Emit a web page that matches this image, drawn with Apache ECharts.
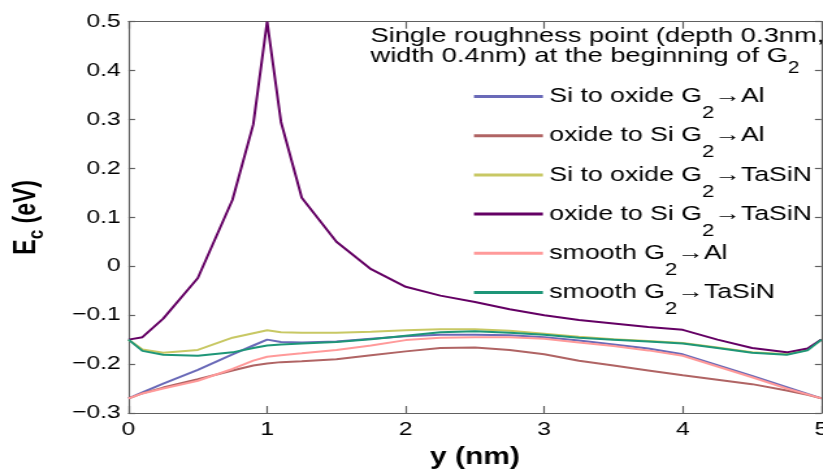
<!DOCTYPE html>
<html>
<head>
<meta charset="utf-8">
<script src="https://cdn.jsdelivr.net/npm/echarts@6/dist/echarts.min.js"></script>
<style>
html,body{margin:0;padding:0;background:#fff;overflow:hidden}
#wrap{width:823px;height:473px;overflow:hidden;position:relative}
#c{width:633px;height:473px;transform:scaleX(1.3);transform-origin:0 0}
</style>
</head>
<body>
<div id="wrap"><div id="c"></div></div>
<script>
const xs = [0, 0.1, 0.25, 0.5, 0.75, 0.9, 1.0, 1.1, 1.25, 1.5, 1.75, 2, 2.25, 2.5, 2.75, 3, 3.25, 3.5, 3.75, 4, 4.25, 4.5, 4.75, 4.9, 5];
const siToOxideAl = [-0.27,-0.258,-0.24,-0.212,-0.18,-0.162,-0.15,-0.155,-0.156,-0.154,-0.148,-0.143,-0.140,-0.140,-0.141,-0.145,-0.152,-0.16,-0.168,-0.18,-0.202,-0.224,-0.247,-0.261,-0.27];
const oxideToSiAl = [-0.27,-0.26,-0.248,-0.231,-0.213,-0.203,-0.199,-0.196,-0.194,-0.19,-0.182,-0.174,-0.167,-0.166,-0.171,-0.18,-0.193,-0.203,-0.213,-0.223,-0.232,-0.241,-0.254,-0.263,-0.27];
const siToOxideTaSiN = [-0.15,-0.17,-0.177,-0.171,-0.146,-0.137,-0.131,-0.135,-0.136,-0.136,-0.134,-0.131,-0.129,-0.129,-0.132,-0.138,-0.144,-0.149,-0.153,-0.157,-0.166,-0.176,-0.18,-0.171,-0.15];
const oxideToSiTaSiN = [-0.15,-0.145,-0.107,-0.024,0.136,0.29,0.5,0.295,0.14,0.05,-0.006,-0.042,-0.06,-0.073,-0.088,-0.1,-0.11,-0.117,-0.124,-0.13,-0.15,-0.167,-0.176,-0.168,-0.15];
const smoothAl = [-0.27,-0.26,-0.25,-0.234,-0.21,-0.193,-0.185,-0.182,-0.178,-0.171,-0.162,-0.151,-0.146,-0.145,-0.145,-0.148,-0.156,-0.163,-0.172,-0.183,-0.205,-0.227,-0.25,-0.262,-0.27];
const smoothTaSiN = [-0.15,-0.173,-0.181,-0.183,-0.176,-0.167,-0.162,-0.16,-0.158,-0.155,-0.149,-0.142,-0.135,-0.133,-0.136,-0.14,-0.146,-0.15,-0.154,-0.158,-0.167,-0.177,-0.181,-0.172,-0.15];
const xTicks = [0, 1, 2, 3, 4, 5];
const yTicks = [-0.3, -0.2, -0.1, 0, 0.1, 0.2, 0.3, 0.4, 0.5];
const seriesNames = ['Si to oxide G{sub|2}→Al', 'oxide to Si G{sub|2}→Al', 'Si to oxide G{sub|2}→TaSiN', 'oxide to Si G{sub|2}→TaSiN', 'smooth G{sub|2}→Al', 'smooth G{sub|2}→TaSiN'];
const seriesColors = ['#6a6ab8', '#b06464', '#c8c864', '#640064', '#ff9a9a', '#1e9678'];
const seriesData = [siToOxideAl, oxideToSiAl, siToOxideTaSiN, oxideToSiTaSiN, smoothAl, smoothTaSiN];
const titleLines = ['Single roughness point (depth 0.3nm,', 'width 0.4nm) at the beginning of G{sub|2}'];

const FONT = '"Liberation Sans", Arial, sans-serif';
const fmtY = v => { const r = Math.round(v*10)/10; if (r === 0) return '0'; return (r < 0 ? '\u2212' : '') + Math.abs(r).toFixed(1); };

const chart = echarts.init(document.getElementById('c'));
const axisLineStyle = {color: '#606060', width: 1.2};
const xTickStyle = {inside: true, length: 7, lineStyle: axisLineStyle};
const yTickStyle = {inside: true, length: 5, lineStyle: axisLineStyle};
chart.setOption({
  animation: false,
  backgroundColor: '#fff',
  textStyle: {fontFamily: FONT},
  graphic: titleLines.map((t, i) => ({
    type: 'text', left: 285, top: i === 0 ? 26 : 46, z: 10,
    style: {text: t, fontFamily: FONT, fontSize: 21, fill: '#000',
      rich: {sub: {fontSize: 16, fontFamily: FONT, fill: '#000', padding: [25, 0, 0, 0]}}}
  })),
  legend: {
    orient: 'vertical', left: 364.6, top: 86, padding: 0,
    itemWidth: 53, itemHeight: 3, itemGap: 3.2, icon: 'rect',
    textStyle: {fontFamily: FONT, fontSize: 20.5, color: '#000',
      rich: {sub: {fontSize: 17, fontFamily: FONT, color: '#000', padding: [34, 0, 0, 0]}}},
    data: seriesNames
  },
  grid: {left: 98.9, right: 1.2, top: 21.7, bottom: 60, containLabel: false, outerBoundsMode: 'none'},
  xAxis: [{
    type: 'value', min: 0, max: 5, interval: 1,
    name: 'y (nm)', nameLocation: 'middle', nameGap: 33,
    nameTextStyle: {fontFamily: FONT, fontSize: 23, fontWeight: 'bold', color: '#000'},
    axisLine: {onZero: false, lineStyle: axisLineStyle}, axisTick: xTickStyle,
    axisLabel: {fontSize: 19, color: '#000', margin: 7, fontFamily: FONT},
    splitLine: {show: false}
  }, {
    type: 'value', min: 0, max: 5, interval: 1, position: 'top',
    axisLine: {show: true, onZero: false, lineStyle: axisLineStyle}, axisTick: xTickStyle,
    axisLabel: {show: false}, splitLine: {show: false}
  }],
  yAxis: [{
    type: 'value', min: -0.3, max: 0.5, interval: 0.1,
    name: 'E{sub|c} (eV)', nameLocation: 'middle', nameGap: 62, nameRotate: 90,
    nameTextStyle: {fontFamily: FONT, fontSize: 23, fontWeight: 'bold', color: '#000',
      rich: {sub: {fontSize: 17, fontWeight: 'bold', fontFamily: FONT, color: '#000', padding: [16, 0, 0, 0]}}},
    axisLine: {show: true, onZero: false, lineStyle: axisLineStyle}, axisTick: yTickStyle,
    axisLabel: {fontSize: 19, color: '#000', margin: 6, fontFamily: FONT, formatter: fmtY},
    splitLine: {show: false}
  }, {
    type: 'value', min: -0.3, max: 0.5, interval: 0.1, position: 'right',
    axisLine: {show: true, onZero: false, lineStyle: axisLineStyle}, axisTick: yTickStyle,
    axisLabel: {show: false}, splitLine: {show: false}
  }],
  series: seriesNames.map((n, k) => ({
    name: n, type: 'line', symbol: 'none', smooth: false,
    data: xs.map((x, i) => [x, seriesData[k][i]]),
    lineStyle: {color: seriesColors[k], width: 2},
    itemStyle: {color: seriesColors[k]}
  }))
});
</script>
</body>
</html>
